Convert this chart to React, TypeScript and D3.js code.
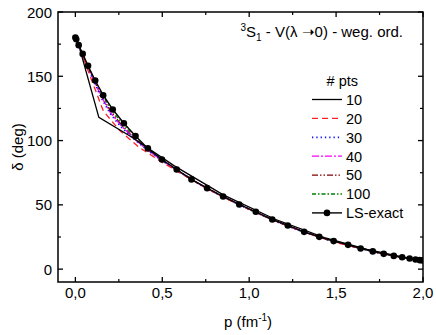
import React from "react";
import * as d3 from "d3";

// LS-exact phase shifts (dots)
const exactP = [0, 0.005, 0.019, 0.042, 0.073, 0.114, 0.160, 0.215, 0.279, 0.346, 0.417, 0.498, 0.583, 0.668, 0.758, 0.850, 0.943, 1.038, 1.133, 1.222, 1.316, 1.403, 1.486, 1.569, 1.641, 1.711, 1.774, 1.832, 1.880, 1.923, 1.957, 1.982, 1.996];
const exactD = [180.2, 178.8, 174.2, 167.4, 158.1, 146.7, 135.3, 124.2, 113.5, 103.5, 93.9, 85.3, 77.5, 69.8, 63.0, 56.5, 50.3, 44.6, 38.6, 34.0, 29.0, 25.1, 21.8, 18.9, 16.1, 13.8, 11.9, 10.3, 9.3, 8.3, 7.5, 7.0, 6.8];

// 10 pts
const p10 = [0.026, 0.135, 0.321, 0.567, 0.851, 1.149, 1.433, 1.679, 1.865, 1.974];
const d10 = [171, 118, 103, 80.5, 57.8, 38.8, 24.5, 15.4, 9.9, 7.4];

// 20 pts
const p20 = [0.0069, 0.0361, 0.0878, 0.1609, 0.2537, 0.3639, 0.4892, 0.6263, 0.7723, 0.9235, 1.0765, 1.2277, 1.3737, 1.5108, 1.6361, 1.7463, 1.8391, 1.9122, 1.9639, 1.9931];
const d20 = [178.5, 168, 149, 123, 108, 95, 84, 72.8, 61.6, 51.2, 41.8, 33.4, 26.3, 20.3, 16.2, 12.7, 10.0, 8.3, 7.3, 6.8];

// 30, 40, 50, 100 pts (shared abscissae)
const pDense = [0.005, 0.03, 0.06, 0.1, 0.15, 0.2, 0.26, 0.33, 0.41, 0.5, 0.6, 0.72, 0.85, 1.0, 1.15, 1.3, 1.45, 1.6, 1.75, 1.88, 1.97, 2.0];
const d30 = [178.6, 170, 160, 148, 133, 121, 111, 102, 93, 84.3, 75.5, 65.6, 56.2, 46.6, 37.4, 29.6, 23.0, 17.5, 12.5, 9.2, 7.1, 6.6];
const d40 = [178.6, 170.2, 160.5, 148.5, 134, 122, 112, 102.5, 93, 84.5, 75.6, 65.6, 56.2, 46.6, 37.4, 29.6, 23.0, 17.5, 12.5, 9.2, 7.1, 6.6];
const d50 = [178.7, 170.4, 161, 149, 135, 123.5, 113, 103, 93.5, 84.6, 75.7, 65.7, 56.3, 46.7, 37.5, 29.6, 23.0, 17.6, 12.5, 9.2, 7.1, 6.6];
const d100 = [178.8, 170.6, 161.5, 150, 136.5, 125.5, 115, 104.5, 93.8, 84.5, 75.4, 65.4, 55.9, 46.3, 37.2, 29.4, 22.8, 17.4, 12.4, 9.1, 7.0, 6.5];

const legendLabels = ["10", "20", "30", "40", "50", "100", "LS-exact"];
const xTicks = [0, 0.5, 1.0, 1.5, 2.0];
const yTicks = [0, 50, 100, 150, 200];

const FONT = "'Liberation Sans', Arial, Helvetica, sans-serif";

export default function App() {
  const left = 58, right = 423, top = 12, bottom = 282;
  const x = d3.scaleLinear().domain([-0.1, 2.0]).range([left, right]);
  const y = d3.scaleLinear().domain([-10, 200]).range([bottom, top]);

  const line = d3.line<[number, number]>().x(d => x(d[0])).y(d => y(d[1]));
  const zip = (ps: number[], ds: number[]) => ps.map((p, i) => [p, ds[i]] as [number, number]);

  const series = [
    { label: "10", pts: zip(p10, d10), color: "#000000", dash: "", w: 1.3 },
    { label: "20", pts: zip(p20, d20), color: "#ff2020", dash: "6,4", w: 1.3 },
    { label: "30", pts: zip(pDense, d30), color: "#1010ff", dash: "1.3,3", w: 1.7 },
    { label: "40", pts: zip(pDense, d40), color: "#ff00ff", dash: "7,2,2,2", w: 1.3 },
    { label: "50", pts: zip(pDense, d50), color: "#800000", dash: "6,2,1.5,2,1.5,2", w: 1.3 },
    { label: "100", pts: zip(pDense, d100), color: "#008000", dash: "4,2,1.5,2", w: 1.3 },
  ];
  const exact = zip(exactP, exactD);

  const xMinor = d3.range(0, 2.01, 0.25).filter(v => !xTicks.some(t => Math.abs(t - v) < 1e-6));
  const yMinor = d3.range(0, 201, 25).filter(v => !yTicks.includes(v));

  const legX0 = 312, legX1 = 342, legY0 = 99.5, legDy = 18.9;

  return (
    <svg width={436} height={335} style={{ position: "absolute", left: 0, top: 0, background: "#fff" }} fontFamily={FONT}>
      <defs>
        <clipPath id="plot">
          <rect x={left} y={top} width={right - left} height={bottom - top} />
        </clipPath>
      </defs>

      <g clipPath="url(#plot)">
        {series.slice().reverse().map(s => (
          <path key={s.label} d={line(s.pts) || ""} fill="none" stroke={s.color} strokeWidth={s.w} strokeDasharray={s.dash} />
        ))}
        <path d={line(exact) || ""} fill="none" stroke="#000" strokeWidth={1.4} />
        {exact.map((d, i) => (
          <circle key={i} cx={x(d[0])} cy={y(d[1])} r={3.3} fill="#000" />
        ))}
      </g>

      {/* frame */}
      <rect x={left} y={top} width={right - left} height={bottom - top} fill="none" stroke="#000" strokeWidth={1.5} />

      {/* x ticks */}
      {xTicks.map(t => (
        <g key={"xt" + t}>
          <line x1={x(t)} x2={x(t)} y1={bottom} y2={bottom - 5} stroke="#000" strokeWidth={1.3} />
          <line x1={x(t)} x2={x(t)} y1={top} y2={top + 5} stroke="#000" strokeWidth={1.3} />
          <text x={x(t)} y={298} fontSize={15} textAnchor="middle">{t.toFixed(1).replace(".", ",")}</text>
        </g>
      ))}
      {xMinor.map(t => (
        <g key={"xm" + t}>
          <line x1={x(t)} x2={x(t)} y1={bottom} y2={bottom - 3} stroke="#000" strokeWidth={1.2} />
          <line x1={x(t)} x2={x(t)} y1={top} y2={top + 3} stroke="#000" strokeWidth={1.2} />
        </g>
      ))}

      {/* y ticks */}
      {yTicks.map(t => (
        <g key={"yt" + t}>
          <line x1={left} x2={left + 5} y1={y(t)} y2={y(t)} stroke="#000" strokeWidth={1.3} />
          <line x1={right} x2={right - 5} y1={y(t)} y2={y(t)} stroke="#000" strokeWidth={1.3} />
          <text x={52} y={y(t) + 5.5} fontSize={15} textAnchor="end">{t}</text>
        </g>
      ))}
      {yMinor.map(t => (
        <g key={"ym" + t}>
          <line x1={left} x2={left + 3} y1={y(t)} y2={y(t)} stroke="#000" strokeWidth={1.2} />
          <line x1={right} x2={right - 3} y1={y(t)} y2={y(t)} stroke="#000" strokeWidth={1.2} />
        </g>
      ))}

      {/* axis titles */}
      <text x={248} y={327} fontSize={15} textAnchor="middle">
        p (fm<tspan dy={-6} fontSize={10}>-1</tspan><tspan dy={6}>)</tspan>
      </text>
      <text transform="translate(23,147) rotate(-90)" fontSize={15} textAnchor="middle">δ (deg)</text>

      {/* panel title */}
      <text x={403} y={37} fontSize={15} textAnchor="end">
        <tspan dy={-6} fontSize={10}>3</tspan>
        <tspan dy={6}>S</tspan>
        <tspan dy={4} fontSize={10}>1</tspan>
        <tspan dy={-4}> - V(λ ➝0) - weg. ord.</tspan>
      </text>

      {/* legend */}
      <text x={358} y={85.5} fontSize={14.5} textAnchor="end"># pts</text>
      {legendLabels.map((lab, i) => {
        const yy = legY0 + i * legDy;
        const s = series[i];
        return (
          <g key={lab}>
            {s ? (
              <line x1={legX0} x2={legX1} y1={yy} y2={yy} stroke={s.color} strokeWidth={s.w} strokeDasharray={s.dash} />
            ) : (
              <g>
                <line x1={legX0} x2={legX1} y1={yy} y2={yy} stroke="#000" strokeWidth={1.4} />
                <circle cx={(legX0 + legX1) / 2} cy={yy} r={3.3} fill="#000" />
              </g>
            )}
            <text x={346} y={yy + 5.3} fontSize={14.5}>{lab}</text>
          </g>
        );
      })}
    </svg>
  );
}
